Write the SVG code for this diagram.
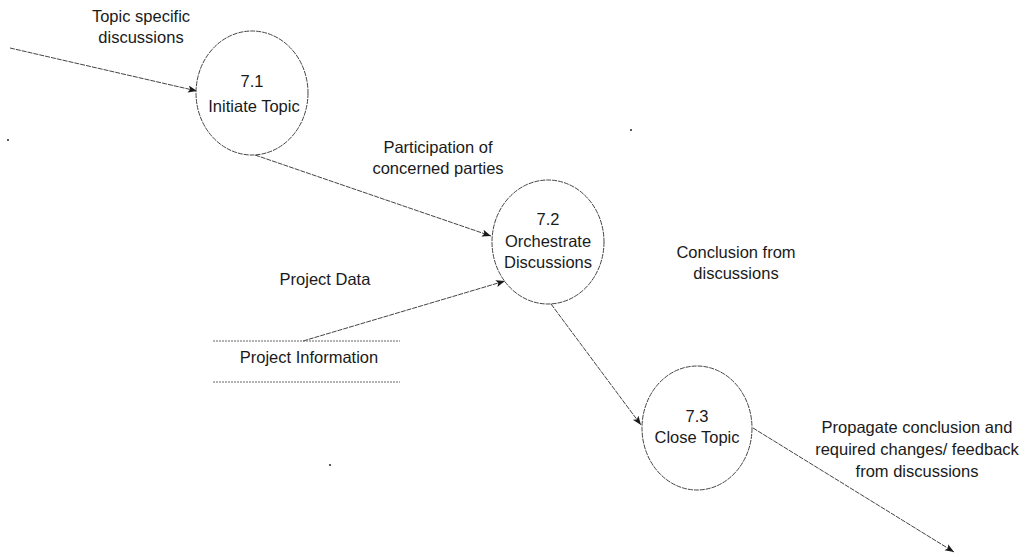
<svg xmlns="http://www.w3.org/2000/svg" width="1029" height="556" viewBox="0 0 1029 556">
  <style>
    .proc { fill: #ffffff; stroke: #444444; stroke-width: 1; stroke-dasharray: 5 1; }
    .flow { fill: none; stroke: #444444; stroke-width: 1; stroke-dasharray: 5 1; }
    .store { fill: none; stroke: #666666; stroke-width: 1; stroke-dasharray: 2 1; }
    text { font-family: "Liberation Sans", Arial, sans-serif; font-size: 16.5px; fill: #1a1a1a; text-anchor: middle; }
  </style>
  <defs>
    <marker id="arrow" markerUnits="userSpaceOnUse" markerWidth="10" markerHeight="8" refX="9" refY="3.5" orient="auto">
      <path d="M0,0 L9,3.5 L0,7 L2,3.5 z" fill="#1a1a1a"/>
    </marker>
  </defs>

  <rect width="1029" height="556" fill="#ffffff"/>

  <!-- data flows -->
  <g id="connectors">
    <line class="flow" x1="10" y1="48" x2="197" y2="91" marker-end="url(#arrow)"/>
    <line class="flow" x1="255" y1="155" x2="491" y2="236" marker-end="url(#arrow)"/>
    <line class="flow" x1="303" y1="341" x2="505" y2="281" marker-end="url(#arrow)"/>
    <line class="flow" x1="551" y1="304" x2="641" y2="425" marker-end="url(#arrow)"/>
    <line class="flow" x1="753" y1="428" x2="954" y2="552" marker-end="url(#arrow)"/>
  </g>

  <!-- flow labels -->
  <g id="flow-labels">
    <text x="141" y="22">Topic specific</text>
    <text x="141" y="43">discussions</text>
    <text x="438" y="153">Participation of</text>
    <text x="438" y="174">concerned parties</text>
    <text x="325" y="285">Project Data</text>
    <text x="736" y="258">Conclusion from</text>
    <text x="736" y="279">discussions</text>
    <text x="917" y="433">Propagate conclusion and</text>
    <text x="917" y="455">required changes/ feedback</text>
    <text x="917" y="477">from discussions</text>
  </g>

  <!-- processes -->
  <g id="p7-1">
    <ellipse class="proc" cx="252" cy="93" rx="56" ry="62"/>
    <text x="252" y="87">7.1</text>
    <text x="254" y="112">Initiate Topic</text>
  </g>
  <g id="p7-2">
    <ellipse class="proc" cx="548" cy="242" rx="56" ry="62"/>
    <text x="548" y="225">7.2</text>
    <text x="548" y="247">Orchestrate</text>
    <text x="548" y="268">Discussions</text>
  </g>
  <g id="p7-3">
    <ellipse class="proc" cx="697" cy="428" rx="55" ry="62"/>
    <text x="697" y="422">7.3</text>
    <text x="697" y="443">Close Topic</text>
  </g>

  <!-- data store -->
  <g id="store-project-information">
    <line class="store" x1="213" y1="341" x2="400" y2="341"/>
    <line class="store" x1="213" y1="382" x2="400" y2="382"/>
    <text x="309" y="363">Project Information</text>
  </g>

  <!-- stray specks -->
  <g id="specks" fill="#333333">
    <circle cx="8" cy="140" r="1.1"/>
    <circle cx="631" cy="130" r="1.1"/>
    <circle cx="330" cy="465" r="1.1"/>
  </g>
</svg>
